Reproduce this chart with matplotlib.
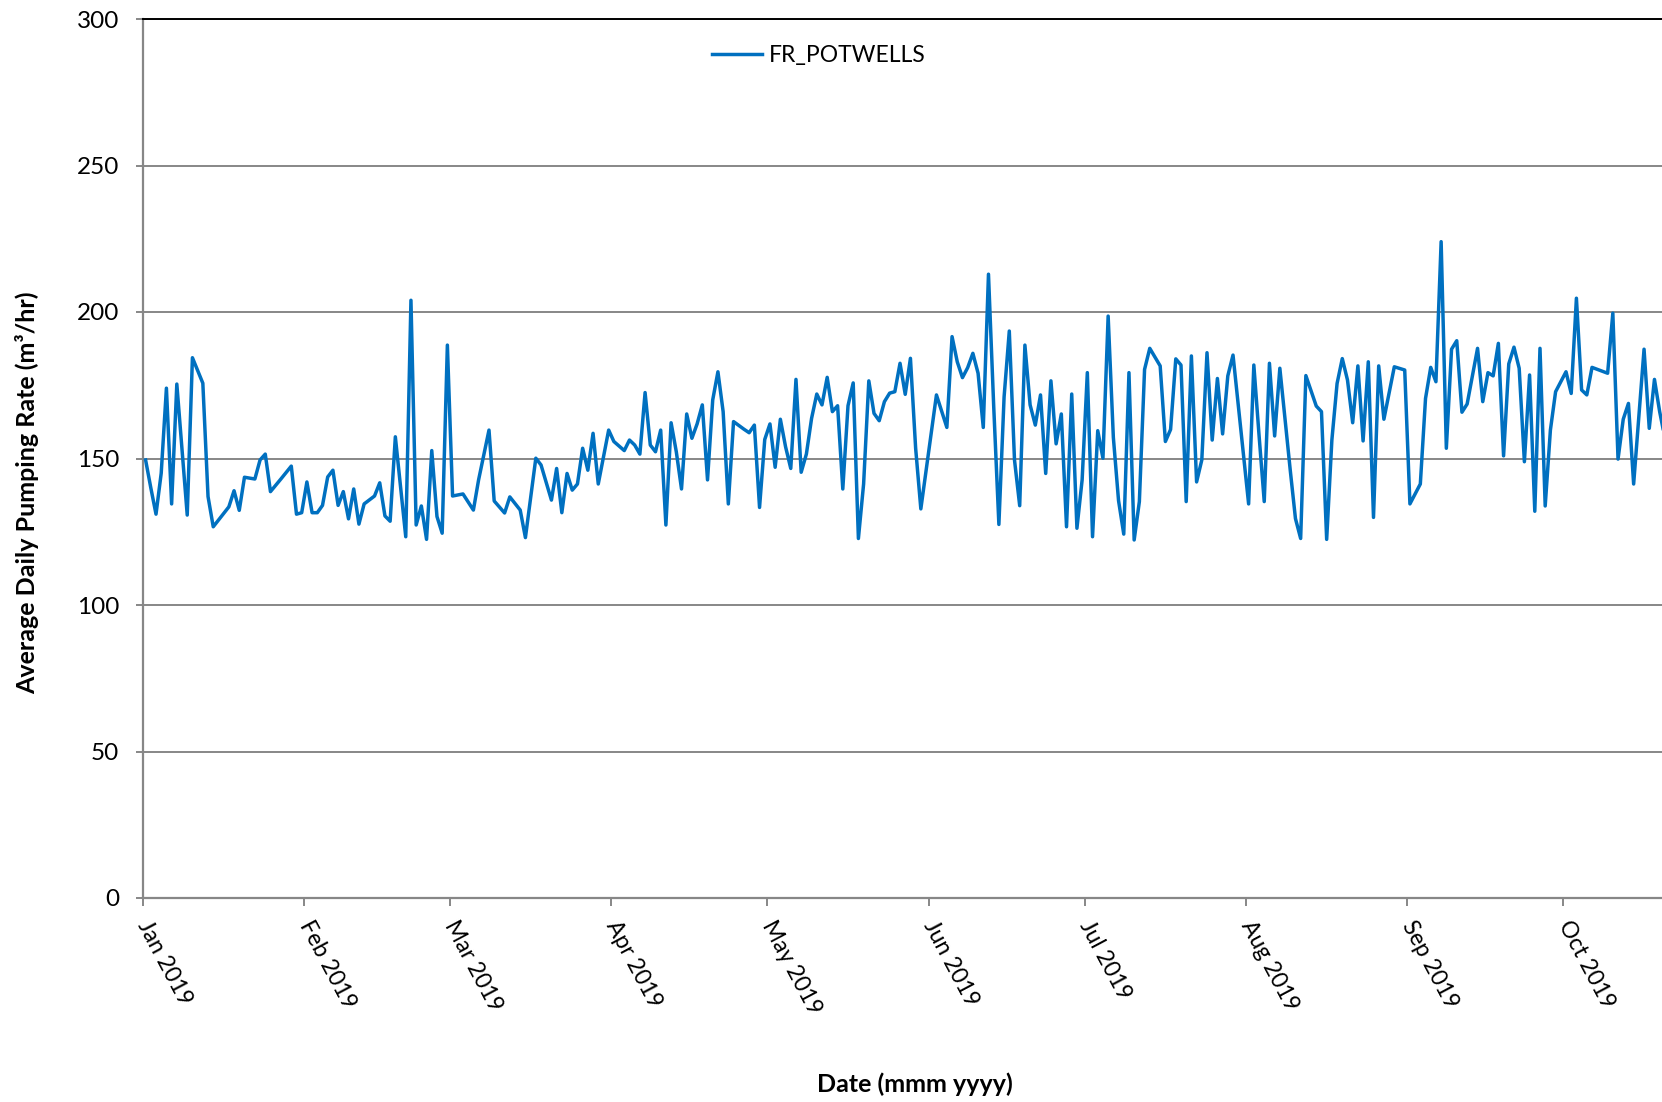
import numpy as np
import pandas as pd
import matplotlib
matplotlib.use("Agg")
import matplotlib.pyplot as plt
import matplotlib.dates as mdates

plt.rcParams['font.family'] = ['Lato', 'DejaVu Sans']

# day offsets from 1 Jan 2019 and the daily average pumping rate (m3/hr)
day_of_year = [
    0, 1, 2, 3, 4, 5, 6, 8, 9, 11, 12, 13, 16, 17, 18, 19, 21, 22, 23, 24,
    26, 28, 29, 30, 31, 32, 33, 34, 35, 36, 37, 38, 39, 40, 41, 42, 44, 45, 46, 47,
    48, 50, 51, 52, 53, 54, 55, 56, 57, 58, 59, 61, 63, 64, 66, 67, 69, 70, 72, 73,
    75, 76, 78, 79, 80, 81, 82, 83, 84, 85, 86, 87, 89, 90, 92, 93, 94, 95, 96, 97,
    98, 99, 100, 101, 102, 103, 104, 105, 106, 107, 108, 109, 110, 111, 112, 113, 115, 116, 117, 118,
    119, 120, 121, 122, 123, 124, 125, 126, 127, 128, 129, 130, 131, 132, 133, 134, 135, 136, 137, 138,
    139, 140, 141, 142, 143, 144, 145, 146, 147, 148, 149, 152, 154, 155, 156, 157, 158, 159, 160, 161,
    162, 163, 164, 165, 166, 167, 168, 169, 170, 171, 172, 173, 174, 175, 176, 177, 178, 179, 180, 181,
    182, 183, 184, 185, 186, 187, 188, 189, 190, 191, 192, 193, 195, 196, 197, 198, 199, 200, 201, 202,
    203, 204, 205, 206, 207, 208, 209, 212, 213, 214, 215, 216, 217, 218, 220, 221, 222, 223, 225, 226,
    227, 228, 229, 230, 231, 232, 233, 234, 235, 236, 237, 238, 240, 242, 243, 245, 246, 247, 248, 249,
    250, 251, 252, 253, 254, 256, 257, 258, 259, 260, 261, 262, 263, 264, 265, 266, 267, 268, 269, 270,
    271, 273, 274, 275, 276, 277, 278, 281, 282, 283, 284, 285, 286, 288, 289, 290, 291, 292,
]
pumping_rate = [
    149.5, 140, 131, 145, 174, 134.5, 175.4, 130.7, 184.4, 175.7, 137, 126.7, 133.5, 139, 132.3, 143.6, 143, 149.5, 151.5, 138.7,
    143, 147.4, 131, 131.5, 142, 131.5, 131.5, 134, 143.7, 146, 134, 138.7, 129.4, 139.6, 127.6, 134.5, 137.2, 141.7, 130.4, 128.6,
    157.4, 123.3, 204, 127.3, 133.8, 122.4, 152.7, 130.2, 124.5, 188.7, 137.2, 137.9, 132.4, 142.7, 159.7, 135.5, 131.4, 136.9, 132.4, 123,
    150.1, 147.8, 135.8, 146.6, 131.5, 144.9, 139.2, 141.3, 153.5, 146, 158.6, 141.3, 159.7, 155.8, 152.7, 156.3, 154.6, 151.5, 172.5, 154.6,
    152.3, 159.7, 127.3, 162.2, 152.3, 139.6, 165.2, 156.9, 161.8, 168.3, 142.7, 170, 179.6, 166, 134.5, 162.6, 160, 158.8, 161.4, 133.3,
    156.5, 161.8, 147, 163.4, 154, 146.6, 177, 145.3, 151.5, 163.7, 172, 168.3, 177.7, 166, 168, 139.6, 168, 175.8, 122.7, 141.3,
    176.5, 165.4, 162.9, 169.4, 172.3, 172.8, 182.5, 171.9, 184.2, 153.5, 132.8, 171.7, 160.6, 191.6, 183, 177.6, 181, 185.9, 179.1, 160.6,
    212.9, 168, 127.5, 171, 193.5, 149.5, 133.9, 188.7, 168.3, 161.4, 171.7, 144.9, 176.5, 155, 165.2, 126.7, 172, 126.2, 142.7, 179.3,
    123.3, 159.5, 150.1, 198.6, 157.2, 135.6, 124.2, 179.3, 122.2, 135.3, 180.4, 187.6, 181.6, 155.8, 159.9, 184, 181.9, 135.3, 185, 142,
    149.5, 186.1, 156.3, 177.3, 158.4, 178.2, 185.3, 134.5, 181.9, 158, 135.3, 182.5, 157.7, 180.8, 146, 129.5, 122.7, 178.3, 167.9, 166,
    122.4, 156.3, 175.6, 184.1, 176.8, 162.2, 181.6, 156, 183, 129.9, 181.6, 163.4, 181.3, 180.2, 134.5, 141.3, 170.5, 181.1, 176.2, 224,
    153.5, 187.3, 190.2, 165.8, 168.6, 187.6, 169.4, 179.3, 178.2, 189.3, 150.9, 182.3, 188, 180.8, 148.9, 178.5, 132, 187.6, 133.8, 159.7,
    172.8, 179.6, 172.2, 204.7, 173.4, 171.7, 181.1, 179.1, 199.6, 149.8, 163.4, 168.8, 141.3, 187.3, 160.3, 177, 166, 157,
]
series_name = "FR_POTWELLS"
y_ticks = [0, 50, 100, 150, 200, 250, 300]

start = pd.Timestamp("2019-01-01")
dates = start + pd.to_timedelta(day_of_year, unit="D") + pd.Timedelta(hours=12)

fig = plt.figure(figsize=(16.62, 11.02), dpi=100)
ax = fig.add_axes([143 / 1662, 1 - 898 / 1102, 1 - 143 / 1662, (898 - 19) / 1102])

ax.plot(dates, pumping_rate, color="#0070C0", linewidth=2.5, label=series_name,
        solid_joinstyle="round", zorder=3)

ax.set_ylim(0, 300)
ax.set_yticks(y_ticks)
ax.set_xlim(start, start + pd.Timedelta(days=291.95))
ax.yaxis.grid(True, color="#878787", linewidth=1.4)
ax.set_axisbelow(True)

ax.xaxis.set_major_locator(mdates.MonthLocator())
ax.xaxis.set_major_formatter(mdates.DateFormatter("%b %Y"))

for side in ["left", "bottom"]:
    ax.spines[side].set_color("#878787")
    ax.spines[side].set_linewidth(1.6)
ax.spines["top"].set_color("black")
ax.spines["top"].set_linewidth(1.4)
ax.spines["right"].set_visible(False)

ax.tick_params(axis="y", direction="out", length=5, width=1.4, color="#878787",
               pad=12, labelsize=17.5)
ax.tick_params(axis="x", direction="out", length=6, width=1.4, color="#878787",
               pad=11, labelsize=16.5)
for lbl in ax.get_xticklabels():
    lbl.set_rotation(-62)
    lbl.set_ha("left")
    lbl.set_va("center")
    lbl.set_rotation_mode("anchor")

fig.text(27 / 1662, 1 - 493 / 1102, "Average Daily Pumping Rate (m³/hr)",
         rotation=90, ha="center", va="center", fontsize=18, fontweight="bold")
fig.text(915 / 1662, 1 - 1084 / 1102, "Date (mmm yyyy)",
         ha="center", va="center", fontsize=18, fontweight="bold")

ax.legend(loc="center left", bbox_to_anchor=(0.3746, 0.959), frameon=False,
          borderpad=0, borderaxespad=0, handlelength=2.2, handletextpad=0.3,
          fontsize=16.5)

fig.savefig("out.png", dpi=100)
